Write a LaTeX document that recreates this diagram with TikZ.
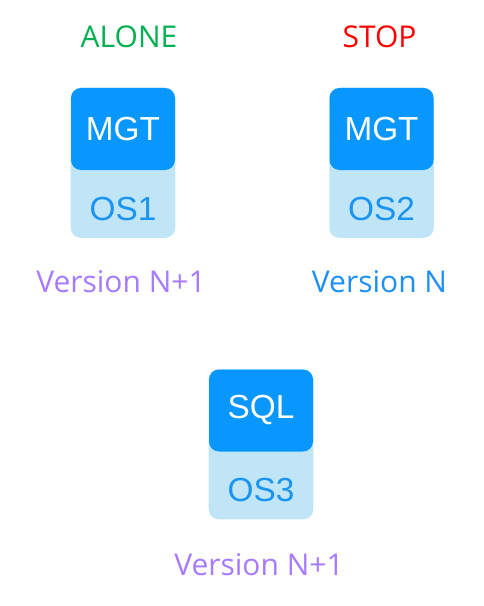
\documentclass[tikz,border=0pt]{standalone}
\usepackage{fontspec}
\setmainfont{Open Sans}
\newfontfamily\boxfont{Liberation Sans}
\usetikzlibrary{positioning, backgrounds}
\definecolor{appblue}{HTML}{0896FF}
\definecolor{oslight}{HTML}{BFE5F7}
\definecolor{ostext}{HTML}{1A94F0}
\definecolor{verblue}{HTML}{1E90F5}
\definecolor{verpurple}{HTML}{A77BFF}
\definecolor{alonegreen}{HTML}{00B050}
\definecolor{stopred}{HTML}{FF0000}

\begin{document}
\begin{tikzpicture}[x=0.75pt, y=-0.75pt]
% Define styles
\tikzstyle{app} = [rectangle, rounded corners=7.5pt, minimum width=78pt, minimum height=61.5pt, inner sep=0pt, fill=appblue, text=white, font=\boxfont\fontsize{25}{30}\selectfont]
\tikzstyle{os} = [rectangle, minimum width=78pt, minimum height=50.25pt, inner sep=0pt, text height=24.75pt, text=ostext, font=\boxfont\fontsize{25}{30}\selectfont]
\tikzstyle{tag} = [inner sep=0pt, font=\fontsize{22.5}{27}\selectfont]

\useasboundingbox (0,0) rectangle (483,606);

% Application layers
\node (mgt1) [app] at (123,129) {MGT};
\node (mgt2) [app, right=115.5pt of mgt1] {MGT};
\node (sql) [app] at (261,410.5) {SQL};

% OS layers
\node (os1) [os, below=0pt of mgt1] {OS1};
\node (os2) [os, below=0pt of mgt2] {OS2};
\node (os3) [os, below=0pt of sql] {OS3};

\begin{scope}[on background layer]
\fill [oslight, rounded corners=7.5pt] (mgt1.north west) rectangle (os1.south east);
\fill [oslight, rounded corners=7.5pt] (mgt2.north west) rectangle (os2.south east);
\fill [oslight, rounded corners=7.5pt] (sql.north west) rectangle (os3.south east);
\end{scope}

% State labels
\node (alone) [tag, above=30pt of mgt1, xshift=4.5pt, text=alonegreen] {ALONE};
\node (stop) [tag, above=30pt of mgt2, xshift=-1.5pt, text=stopred] {STOP};

% Version labels
\node (ver1) [tag, below=24pt of os1, xshift=-1.5pt, text=verpurple] {Version N+1};
\node (ver2) [tag, below=24pt of os2, xshift=-1.5pt, text=verblue] {Version N};
\node (ver3) [tag, below=25.5pt of os3, xshift=-1.5pt, text=verpurple] {Version N+1};

\end{tikzpicture}
\end{document}
